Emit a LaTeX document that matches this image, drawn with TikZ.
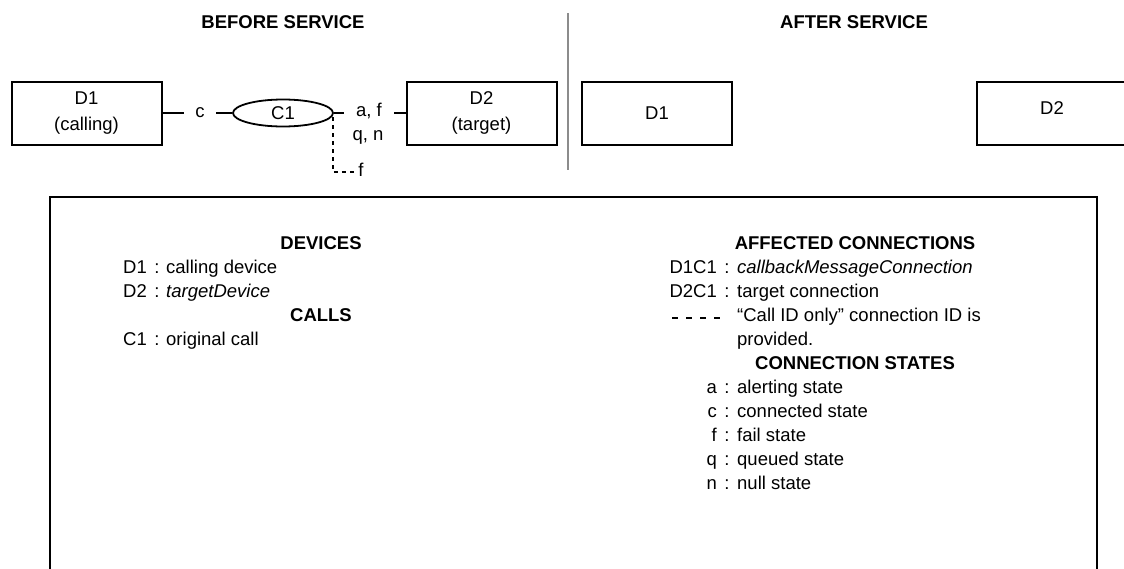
\documentclass[tikz,border=0pt]{standalone}
\usepackage{fontspec}
\setmainfont{Liberation Sans}
\usetikzlibrary{shapes.geometric}
\definecolor{divgray}{HTML}{8C8C8C}
\begin{document}
\begin{tikzpicture}[x=1pt,y=-1pt,
  every node/.style={font=\fontsize{18.5}{24}\selectfont, inner sep=0pt},
  devbox/.style={draw, line width=2pt, minimum width=150pt, minimum height=63pt, align=center, font=\fontsize{18.5}{26}\selectfont},
  conn/.style={line width=1.8pt},
  dashconn/.style={line width=1.8pt, dash pattern=on 4pt off 4pt},
  heading/.style={font=\fontsize{18.5}{24}\selectfont\bfseries, anchor=base},
  lbl/.style={text height=13.3pt, text depth=3.9pt},
  lab/.style={anchor=base east},
  colon/.style={anchor=base},
  desc/.style={anchor=base west},
]
\useasboundingbox (0,0) rectangle (1124,568);

% headings
\node[heading] (hbefore) at (283,28) {BEFORE SERVICE};
\node[heading] (hafter) at (854,28) {AFTER SERVICE};

% divider
\coordinate (divtop) at (568,13);
\coordinate (divbot) at (568,170);
\draw[line width=2pt, divgray] (divtop) -- (divbot);

% before service
\node[devbox] (D1) at (86.5,113) {D1\\(calling)};
\node[devbox] (D2) at (481.5,113) {D2\\(target)};
\node[draw, ellipse, line width=1.8pt, minimum width=100pt, minimum height=27pt] (C1) at (283,113) {C1};
\node[lbl, inner xsep=11.5pt] (c) at (200,113) {c};
\node[lbl, inner xsep=12pt] (af) at (369,112) {a, f};
\node[lbl] (qn) at (368,136) {q, n};
\node[lbl, inner xsep=3.5pt] (fd) at (361,172) {f};
\draw[conn] (D1.east) -- (c.west);
\draw[conn] (c.east) -- (C1.west);
\draw[conn] (C1.east) -- (af.west |- C1.east);
\draw[conn] (af.east |- C1.east) -- (D2.west);
\draw[dashconn] ([shift={(-1,4)}]C1.east) |- (fd.west);

% after service
\node[devbox] (D1a) at (657,113) {D1};
\node[devbox, text height=13.3pt, text depth=10pt] (D2a) at (1052,113) {D2};

% legend frame
\coordinate (fbl) at (50,572);
\coordinate (ftl) at (50,197);
\coordinate (ftr) at (1097,197);
\coordinate (fbr) at (1097,572);
\draw[line width=2pt] (fbl) -- (ftl) -- (ftr) -- (fbr);

% legend left
\node[heading] (hdev) at (321,249.6) {DEVICES};
\node[lab] (ld1) at (147,273.6) {D1};
\node[colon] (cd1) at (157,273.6) {:};
\node[desc] (td1) at (166,273.6) {calling device};
\node[lab] (ld2) at (147,297.6) {D2};
\node[colon] (cd2) at (157,297.6) {:};
\node[desc] (td2) at (166,297.6) {\textit{targetDevice}};
\node[heading] (hcalls) at (321,321.6) {CALLS};
\node[lab] (lc1) at (147,345.6) {C1};
\node[colon] (cc1) at (157,345.6) {:};
\node[desc] (tc1) at (166,345.6) {original call};

% legend right
\node[heading] (haff) at (855,249.6) {AFFECTED CONNECTIONS};
\node[lab] (la1) at (717,273.6) {D1C1};
\node[colon] (ca1) at (727,273.6) {:};
\node[desc] (ta1) at (737,273.6) {\textit{callbackMessageConnection}};
\node[lab] (la2) at (717,297.6) {D2C1};
\node[colon] (ca2) at (727,297.6) {:};
\node[desc] (ta2) at (737,297.6) {target connection};
\coordinate (dsa) at (672,318);
\coordinate (dsb) at (720,318);
\draw[line width=1.8pt, dash pattern=on 5.5pt off 8.5pt] (dsa) -- (dsb);
\node[desc] (ta3) at (737,321.6) {“Call ID only” connection ID is};
\node[desc] (ta4) at (737,345.6) {provided.};
\node[heading] (hstates) at (855,369.6) {CONNECTION STATES};
\node[lab] (ls1) at (717,393.6) {a};
\node[colon] (cs1) at (727,393.6) {:};
\node[desc] (ts1) at (737,393.6) {alerting state};
\node[lab] (ls2) at (717,417.6) {c};
\node[colon] (cs2) at (727,417.6) {:};
\node[desc] (ts2) at (737,417.6) {connected state};
\node[lab] (ls3) at (717,441.6) {f};
\node[colon] (cs3) at (727,441.6) {:};
\node[desc] (ts3) at (737,441.6) {fail state};
\node[lab] (ls4) at (717,465.6) {q};
\node[colon] (cs4) at (727,465.6) {:};
\node[desc] (ts4) at (737,465.6) {queued state};
\node[lab] (ls5) at (717,489.6) {n};
\node[colon] (cs5) at (727,489.6) {:};
\node[desc] (ts5) at (737,489.6) {null state};
\end{tikzpicture}
\end{document}
